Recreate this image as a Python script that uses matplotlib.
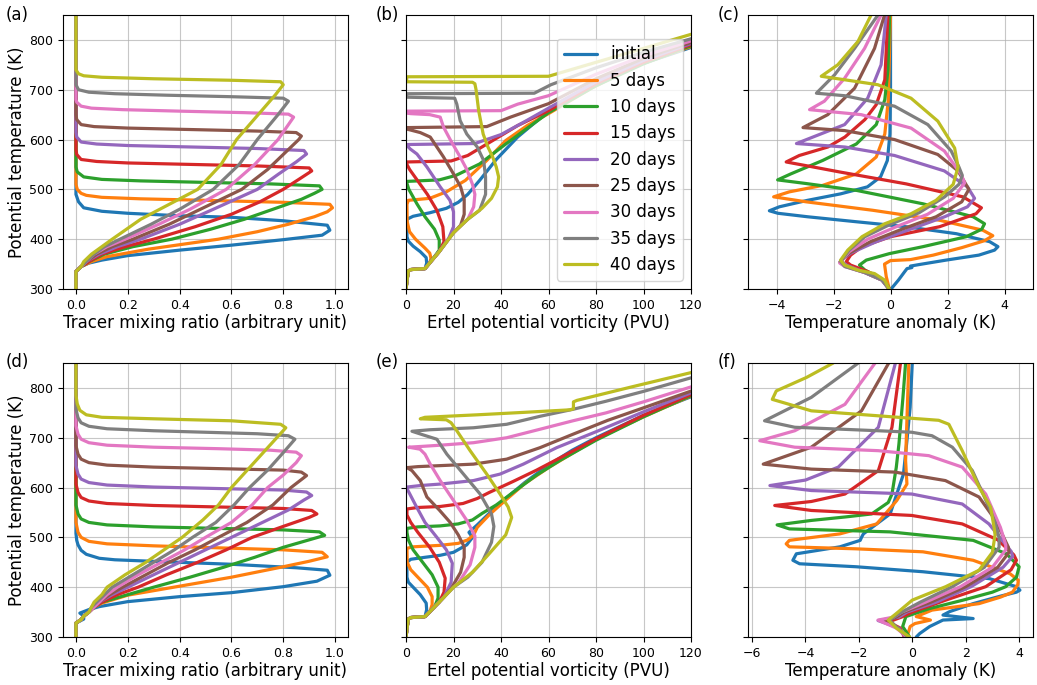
import matplotlib.pyplot as plt

labels = ["initial", "5 days", "10 days", "15 days", "20 days",
          "25 days", "30 days", "35 days", "40 days"]

# -- (a) tracer, run 1: (mixing ratio, theta) per curve ------------------------
tracer_a = [
    [(0, 300), (0, 335), (0.02, 345), (0.05, 352), (0.1, 358), (0.2, 367), (0.4, 378), (0.6, 388),
     (0.8, 399), (0.95, 408), (0.98, 418), (0.97, 428), (0.8, 437), (0.6, 444), (0.4, 447),
     (0.2, 452), (0.1, 456), (0.03, 463), (0.01, 475), (0, 490), (0, 850)],
    [(0, 300), (0, 335), (0.02, 345), (0.06, 355), (0.12, 365), (0.28, 380), (0.55, 400), (0.7, 415),
     (0.82, 430), (0.92, 445), (0.97, 455), (0.99, 463), (0.98, 470), (0.8, 474), (0.5, 478),
     (0.25, 481), (0.1, 484), (0.04, 488), (0.02, 492), (0.005, 500), (0, 510), (0, 850)],
    [(0, 300), (0, 335), (0.02, 345), (0.05, 355), (0.11, 370), (0.22, 385), (0.37, 400), (0.52, 420),
     (0.65, 440), (0.76, 460), (0.87, 480), (0.92, 492), (0.95, 500), (0.94, 507), (0.75, 511),
     (0.5, 514), (0.25, 517), (0.1, 520), (0.03, 525), (0.005, 535), (0, 545), (0, 850)],
    [(0, 300), (0, 335), (0.02, 345), (0.05, 355), (0.1, 370), (0.19, 385), (0.3, 400), (0.46, 425),
     (0.6, 450), (0.71, 475), (0.8, 500), (0.86, 520), (0.91, 537), (0.9, 543), (0.7, 547),
     (0.45, 550), (0.2, 553), (0.08, 556), (0.02, 560), (0.003, 570), (0, 580), (0, 850)],
    [(0, 300), (0, 335), (0.02, 345), (0.04, 355), (0.09, 370), (0.16, 385), (0.25, 400), (0.4, 430),
     (0.53, 460), (0.7, 500), (0.78, 530), (0.85, 555), (0.89, 571), (0.88, 578), (0.7, 582),
     (0.45, 585), (0.2, 588), (0.08, 591), (0.02, 595), (0.003, 605), (0, 615), (0, 850)],
    [(0, 300), (0, 335), (0.02, 345), (0.04, 355), (0.08, 370), (0.14, 385), (0.22, 400), (0.36, 430),
     (0.48, 460), (0.64, 500), (0.74, 540), (0.81, 575), (0.86, 600), (0.87, 607), (0.85, 614),
     (0.7, 617), (0.45, 620), (0.2, 623), (0.07, 626), (0.02, 630), (0.003, 640), (0, 650), (0, 850)],
    [(0, 300), (0, 335), (0.02, 345), (0.04, 355), (0.07, 370), (0.12, 385), (0.19, 400), (0.32, 430),
     (0.44, 460), (0.58, 500), (0.69, 550), (0.78, 600), (0.82, 630), (0.84, 645), (0.82, 651),
     (0.65, 654), (0.4, 657), (0.18, 660), (0.06, 663), (0.02, 667), (0.003, 675), (0, 680), (0, 850)],
    [(0, 300), (0, 335), (0.02, 345), (0.04, 355), (0.07, 370), (0.11, 385), (0.17, 400), (0.29, 430),
     (0.4, 460), (0.53, 500), (0.63, 550), (0.7, 600), (0.78, 650), (0.82, 677), (0.8, 683),
     (0.6, 686), (0.35, 689), (0.15, 692), (0.05, 695), (0.01, 700), (0, 710), (0, 850)],
    [(0, 300), (0, 335), (0.02, 345), (0.03, 355), (0.06, 370), (0.1, 385), (0.14, 400), (0.25, 440),
     (0.36, 470), (0.47, 500), (0.56, 550), (0.62, 600), (0.72, 660), (0.77, 690), (0.8, 710),
     (0.79, 716), (0.6, 719), (0.3, 722), (0.1, 725), (0.03, 728), (0.01, 732), (0, 740), (0, 850)],
]

# -- (d) tracer, run 2 ---------------------------------------------------------
tracer_d = [
    [(0, 300), (0, 328), (0.03, 336), (0.03, 342), (0.015, 348), (0.05, 355), (0.09, 361), (0.2, 371),
     (0.4, 381), (0.6, 389), (0.8, 401), (0.93, 412), (0.98, 424), (0.97, 434), (0.85, 439),
     (0.6, 446), (0.34, 451), (0.15, 455), (0.09, 458), (0.04, 466), (0.02, 474), (0.008, 485),
     (0.003, 494), (0, 508), (0, 850)],
    [(0, 300), (0, 328), (0.02, 335), (0.03, 342), (0.05, 350), (0.07, 360), (0.1, 368), (0.2, 384),
     (0.4, 402), (0.6, 420), (0.8, 441), (0.9, 452), (0.97, 461), (0.95, 470), (0.8, 475),
     (0.55, 479), (0.3, 483), (0.12, 487), (0.05, 492), (0.02, 500), (0.008, 510), (0, 530), (0, 850)],
    [(0, 300), (0, 328), (0.02, 335), (0.03, 342), (0.05, 350), (0.07, 360), (0.1, 370), (0.2, 385),
     (0.3, 400), (0.44, 420), (0.57, 440), (0.69, 460), (0.8, 480), (0.9, 495), (0.96, 504),
     (0.94, 511), (0.8, 515), (0.55, 518), (0.3, 521), (0.12, 525), (0.05, 530), (0.02, 537),
     (0.008, 547), (0, 565), (0, 850)],
    [(0, 300), (0, 328), (0.02, 335), (0.03, 342), (0.05, 350), (0.07, 360), (0.1, 370), (0.16, 385),
     (0.24, 400), (0.35, 425), (0.47, 450), (0.58, 475), (0.68, 500), (0.8, 522), (0.9, 540),
     (0.93, 547), (0.91, 554), (0.8, 558), (0.55, 561), (0.3, 564), (0.12, 568), (0.05, 573),
     (0.02, 580), (0.008, 590), (0, 607), (0, 850)],
    [(0, 300), (0, 328), (0.02, 335), (0.03, 342), (0.05, 350), (0.07, 360), (0.09, 370), (0.14, 385),
     (0.2, 400), (0.3, 425), (0.4, 450), (0.5, 475), (0.6, 500), (0.72, 530), (0.82, 555),
     (0.88, 575), (0.91, 584), (0.89, 591), (0.8, 595), (0.55, 598), (0.3, 601), (0.12, 605),
     (0.05, 610), (0.02, 617), (0.008, 627), (0, 644), (0, 850)],
    [(0, 300), (0, 328), (0.02, 335), (0.03, 342), (0.05, 350), (0.07, 360), (0.09, 370), (0.13, 385),
     (0.18, 400), (0.27, 425), (0.36, 450), (0.46, 475), (0.55, 500), (0.66, 530), (0.76, 565),
     (0.83, 600), (0.89, 624), (0.87, 631), (0.8, 635), (0.55, 638), (0.3, 641), (0.12, 645),
     (0.05, 650), (0.02, 657), (0.008, 667), (0, 684), (0, 850)],
    [(0, 300), (0, 328), (0.02, 335), (0.03, 342), (0.05, 350), (0.07, 360), (0.09, 370), (0.12, 385),
     (0.16, 400), (0.24, 425), (0.33, 450), (0.42, 475), (0.5, 500), (0.6, 530), (0.68, 565),
     (0.74, 600), (0.8, 625), (0.85, 650), (0.87, 664), (0.85, 671), (0.75, 675), (0.55, 678),
     (0.3, 681), (0.12, 685), (0.05, 690), (0.02, 697), (0.008, 707), (0, 724), (0, 850)],
    [(0, 300), (0, 328), (0.02, 335), (0.03, 342), (0.05, 350), (0.06, 360), (0.08, 370), (0.11, 385),
     (0.14, 400), (0.22, 425), (0.3, 450), (0.38, 475), (0.45, 500), (0.54, 530), (0.61, 565),
     (0.67, 600), (0.74, 635), (0.8, 670), (0.845, 697), (0.82, 704), (0.7, 708), (0.5, 711),
     (0.3, 714), (0.12, 718), (0.05, 723), (0.02, 730), (0.008, 740), (0, 757), (0, 850)],
    [(0, 300), (0, 328), (0.02, 335), (0.03, 342), (0.05, 350), (0.06, 360), (0.07, 370), (0.1, 385),
     (0.12, 400), (0.19, 425), (0.27, 450), (0.34, 475), (0.41, 500), (0.49, 535), (0.55, 565),
     (0.6, 600), (0.67, 640), (0.74, 680), (0.81, 720), (0.79, 727), (0.6, 734), (0.3, 738),
     (0.1, 741), (0.04, 746), (0.015, 755), (0.005, 768), (0, 785), (0, 850)],
]

# -- (b) Ertel PV, run 1 -------------------------------------------------------
pv_base = [(0, 300), (0.5, 320), (1, 336), (2, 339), (8, 341)]
pv_b = [
    [(8.7, 352), (8.5, 363), (6, 375), (3, 386), (1, 396), (0.4, 405), (0.4, 440), (3, 446), (10, 453),
     (17, 462), (22, 474), (26, 490), (31, 518), (38, 560), (47, 605), (57, 645), (75, 700),
     (95, 745), (122, 788)],
    [(10, 352), (10.5, 362), (10, 372), (8, 382), (4, 400), (1.5, 415), (0.5, 435), (0.4, 470), (1, 478),
     (10, 482), (17, 495), (25, 518), (34, 558), (42, 598), (51, 628), (60, 652), (78, 703),
     (97, 748), (122, 790)],
    [(12, 365), (14, 378), (14, 398), (12, 420), (8, 445), (4.6, 471), (1.2, 500), (0.4, 512),
     (0.4, 516), (14, 519), (21, 528), (31, 551), (42, 591), (60, 654), (80, 708), (100, 752),
     (122, 792)],
    [(14, 375), (16, 395), (15.5, 425), (13, 458), (9, 490), (4.5, 520), (1.5, 540), (0.4, 550),
     (0.3, 555), (19, 557), (26, 568), (33, 588), (40, 608), (47, 628), (60, 658), (80, 712),
     (100, 755), (122, 794)],
    [(14, 375), (18, 402), (20, 425), (20, 455), (18.5, 478), (14.4, 505), (8.8, 545), (4.6, 571),
     (1.8, 581), (0.4, 588), (0.3, 590), (29, 592), (40, 610), (50, 636), (60, 663), (80, 716),
     (100, 759), (122, 796)],
    [(14, 375), (20, 413), (23, 428), (24.5, 450), (24.5, 480), (23, 505), (20, 531), (15.8, 565),
     (10.2, 605), (6, 614), (2, 619), (0.3, 621), (0.3, 624), (34, 626), (44, 645), (60, 672),
     (80, 722), (100, 763), (122, 798)],
    [(14, 375), (20, 413), (26, 440), (28.5, 465), (29, 490), (28, 510), (25.6, 540), (22.8, 565),
     (18.6, 600), (15.8, 625), (14.4, 645), (10, 650), (2, 652), (0.3, 653), (0.3, 657), (40, 658),
     (47, 671), (60, 688), (80, 731), (100, 768), (122, 801)],
    [(14, 375), (20, 413), (26, 440), (31, 458), (33.5, 490), (33.5, 525), (32.7, 558), (30, 585),
     (25.6, 611), (22.8, 638), (21.4, 671), (20.5, 683), (10, 684), (0.3, 685), (0.3, 692),
     (54, 693), (61, 710), (80, 744), (100, 775), (122, 805)],
    [(14, 375), (20, 413), (26, 440), (32, 462), (36, 482), (38.5, 505), (39, 525), (38, 545),
     (36.5, 565), (34.5, 585), (32.5, 611), (30.6, 658), (29.5, 700), (29, 712), (28, 715),
     (0.3, 716), (0.3, 726), (60, 727), (80, 755), (100, 783), (122, 814)],
]

# -- (e) Ertel PV, run 2 -------------------------------------------------------
pv_e = [
    [(8.7, 355), (8.5, 368), (6, 385), (3, 400), (1, 410), (0.4, 420), (0.4, 450), (2, 456), (8, 460),
     (14.4, 464), (20, 470), (25.6, 485), (28, 500), (26.5, 510), (30, 525), (35, 548), (40, 570),
     (50, 610), (60, 645), (70, 675), (80, 700), (100, 745), (122, 786)],
    [(10, 350), (11, 365), (11, 381), (9, 400), (5, 420), (2, 435), (0.5, 450), (0.4, 478), (3, 481),
     (14.4, 484), (22, 488), (26, 495), (28.5, 505), (30, 520), (35, 545), (42, 575), (50, 608),
     (60, 640), (80, 697), (100, 742), (122, 788)],
    [(12, 360), (13.5, 378), (13.5, 400), (11, 425), (7, 450), (3, 475), (1, 495), (0.4, 510),
     (0.4, 518), (5, 521), (14.4, 523), (22, 527), (28, 535), (32, 548), (38, 565), (45, 590),
     (55, 625), (65, 655), (80, 695), (100, 742), (122, 789)],
    [(14, 370), (16, 390), (16.5, 418), (14, 450), (10, 480), (5, 510), (2, 530), (0.4, 545),
     (0.4, 557), (5, 560), (14.4, 562), (24, 568), (30, 578), (35, 590), (45, 612), (55, 635),
     (65, 660), (80, 698), (100, 745), (122, 791)],
    [(14, 370), (16, 380), (19, 410), (19.5, 448), (17, 475), (13, 500), (8, 530), (4, 565),
     (1.5, 588), (0.4, 598), (0.4, 601), (6, 604), (14.4, 607), (28.4, 614), (39.6, 627),
     (49.4, 647), (63.4, 680), (80, 712), (100, 752), (122, 794)],
    [(14, 370), (19, 397), (23, 430), (24.5, 460), (24.5, 481), (22, 505), (18.6, 530), (14, 555),
     (8.8, 581), (6, 614), (2.5, 634), (0.4, 640), (5, 642), (14.4, 644), (28.4, 647), (42.4, 657),
     (56.4, 680), (70.3, 707), (85, 735), (100, 760), (122, 797)],
    [(14, 370), (20, 400), (22, 408), (27, 445), (29, 480), (29, 503), (25.6, 534), (20, 574),
     (14.4, 614), (10.2, 647), (8, 667), (5.9, 677), (1.1, 681), (8, 683), (14.4, 685), (28.4, 690),
     (42.4, 700), (56.4, 717), (70.3, 734), (84.3, 750), (100, 772), (122, 805)],
    [(14, 370), (20, 400), (26, 420), (32, 450), (36, 490), (37, 522), (36, 547), (31.2, 587),
     (24.2, 627), (17.2, 667), (13, 697), (7, 706), (2.5, 713), (10, 716), (28.4, 720), (42.4, 727),
     (56.4, 743), (70.3, 757), (84, 773), (100, 793), (122, 823)],
    [(14, 370), (20, 400), (28, 430), (35, 467), (42, 505), (44.5, 540), (43, 561), (39.6, 587),
     (34, 627), (27, 674), (21.4, 714), (19, 730), (17, 736), (6, 738), (8, 741), (30, 746),
     (50, 751), (69, 756), (70.5, 758), (70.5, 772), (72, 775), (95, 802), (122, 833)],
]

# -- (c) temperature anomaly, run 1 --------------------------------------------
temp_c = [
    [(0.02, 300), (0.28, 318), (0.5, 335), (0.58, 341), (0.75, 343), (0.7, 346), (1.0, 349),
     (1.95, 358), (3.1, 368), (3.65, 378), (3.77, 385), (3.48, 395), (2.31, 411), (0.55, 425),
     (-1.2, 435), (-2.91, 445), (-3.95, 452), (-4.25, 457), (-3.9, 465), (-2.91, 478), (-1.75, 491),
     (-0.81, 505), (-0.35, 525), (-0.11, 558), (-0.02, 611), (0, 700), (0, 850)],
    [(-0.04, 300), (-0.15, 325), (-0.21, 350), (0.0, 357), (0.7, 359), (1.5, 368), (2.5, 383),
     (3.3, 397), (3.59, 407), (3.24, 418), (1.72, 438), (-0.62, 458), (-2.96, 475), (-4.1, 485),
     (-3.55, 495), (-2.38, 508), (-1.2, 531), (-0.5, 565), (-0.2, 611), (-0.08, 678), (0, 850)],
    [(-0.03, 300), (-0.25, 318), (-0.9, 338), (-1.09, 348), (-0.85, 358), (-0.04, 371), (1.14, 385),
     (2.66, 405), (3.2, 420), (3.3, 431), (2.9, 445), (1.14, 471), (-1.2, 498), (-3.0, 512),
     (-3.96, 519), (-3.5, 531), (-2.38, 558), (-1.2, 591), (-0.5, 630), (-0.2, 680), (-0.09, 740),
     (-0.03, 850)],
    [(-0.05, 300), (-0.3, 320), (-0.8, 335), (-1.4, 348), (-1.55, 355), (-1.4, 368), (-1.0, 385),
     (0, 405), (1.72, 425), (3.0, 451), (3.19, 463), (2.54, 485), (0.55, 511), (-1.79, 535),
     (-3.0, 548), (-3.66, 555), (-3.2, 568), (-2.2, 585), (-1.6, 605), (-0.9, 640), (-0.5, 670),
     (-0.2, 720), (-0.09, 850)],
    [(-0.05, 300), (-0.3, 318), (-0.9, 333), (-1.55, 348), (-1.75, 357), (-1.4, 372), (-0.5, 395),
     (0.7, 420), (1.9, 445), (2.7, 465), (2.95, 482), (2.7, 505), (1.89, 537), (0.14, 568),
     (-1.6, 585), (-3.3, 592), (-2.5, 610), (-1.61, 630), (-0.8, 683), (-0.33, 750), (-0.15, 850)],
    [(-0.05, 300), (-0.3, 318), (-0.9, 333), (-1.6, 346), (-1.78, 354), (-1.45, 372), (-0.7, 395),
     (0.4, 420), (1.6, 445), (2.5, 475), (2.75, 500), (2.37, 537), (1.66, 570), (0.14, 600),
     (-1.61, 618), (-3.07, 624), (-2.2, 650), (-1.26, 703), (-0.56, 783), (-0.21, 850)],
    [(-0.05, 300), (-0.3, 318), (-0.9, 333), (-1.6, 345), (-1.78, 352), (-1.45, 375), (-0.8, 400),
     (0.2, 425), (1.3, 450), (2.2, 482), (2.6, 513), (2.48, 530), (1.89, 577), (0.72, 623),
     (-1.03, 650), (-2.84, 660), (-2.32, 677), (-1.61, 723), (-0.91, 783), (-0.33, 850)],
    [(-0.05, 300), (-0.3, 318), (-0.9, 333), (-1.6, 345), (-1.75, 355), (-1.45, 378), (-0.9, 405),
     (0, 430), (1.0, 453), (1.9, 485), (2.4, 510), (2.52, 528), (2.4, 545), (2.13, 577), (1.31, 630),
     (0.14, 667), (-1.61, 688), (-2.6, 693), (-1.96, 730), (-1.26, 783), (-0.44, 850)],
    [(-0.05, 300), (-0.21, 318), (-0.56, 331), (-1.15, 338), (-1.61, 348), (-1.75, 358), (-1.5, 378),
     (-1.0, 405), (-0.2, 431), (0.72, 451), (1.6, 478), (2.2, 510), (2.37, 545), (2.25, 583),
     (1.66, 637), (0.72, 683), (-0.44, 710), (-1.61, 720), (-2.43, 727), (-1.85, 750), (-1.14, 797),
     (-0.68, 850)],
]

# -- (f) temperature anomaly, run 2 --------------------------------------------
temp_f = [
    [(0.15, 300), (0.28, 307), (0.65, 321), (1.15, 334), (2.28, 337), (1.15, 344), (1.4, 351),
     (2.28, 367), (3.3, 382), (3.9, 390), (4.03, 394), (3.9, 401), (2.9, 417), (0.4, 431), (-2.1, 441),
     (-4.22, 447), (-4.47, 454), (-4.34, 467), (-2.71, 481), (-1.95, 494), (-1.9, 500), (-1.83, 507),
     (-1.33, 527), (-0.83, 547), (-0.58, 587), (-0.33, 627), (-0.2, 694), (-0.08, 761), (0, 850)],
    [(-0.2, 300), (-0.08, 321), (0.1, 327), (0.68, 334), (0.15, 341), (0.74, 354), (2.5, 367),
     (3.3, 380), (3.75, 390), (3.95, 405), (3.97, 414), (3.66, 427), (2.28, 454), (0.4, 471),
     (-2.1, 477), (-4.6, 481), (-4.72, 487), (-4.6, 494), (-2.71, 507), (-1.33, 527), (-0.58, 574),
     (-0.2, 607), (-0.25, 654), (-0.13, 850)],
    [(-0.1, 300), (-0.36, 321), (-0.24, 341), (0.64, 357), (1.9, 374), (3.0, 390), (3.5, 401),
     (3.9, 420), (4.0, 441), (3.53, 467), (2.28, 494), (-0.83, 511), (-4.6, 517), (-5.06, 525),
     (-3.78, 534), (-2.5, 541), (-1.52, 547), (-0.9, 570), (-0.76, 587), (-0.6, 640), (-0.5, 687),
     (-0.35, 780), (-0.25, 850)],
    [(-0.3, 300), (-0.45, 318), (-0.9, 330), (-0.4, 340), (0.0, 350), (1.25, 374), (2.75, 401),
     (3.7, 435), (3.9, 454), (3.8, 465), (3.2, 495), (1.87, 527), (-0.02, 544), (-3.78, 554),
     (-5.15, 564), (-3.78, 572), (-2.52, 587), (-1.27, 634), (-0.76, 721), (-0.44, 850)],
    [(-0.25, 300), (-0.5, 318), (-1.28, 333), (-0.5, 340), (-0.2, 350), (0.9, 370), (2.2, 401),
     (3.4, 440), (3.76, 462), (3.7, 472), (2.87, 527), (1.87, 567), (-0.02, 587), (-3.78, 594),
     (-5.33, 604), (-4.0, 615), (-2.77, 641), (-1.27, 721), (-0.63, 850)],
    [(-0.2, 300), (-0.55, 318), (-1.0, 332), (-0.6, 340), (-0.3, 350), (0.7, 370), (2.0, 401),
     (3.2, 440), (3.62, 470), (3.6, 480), (3.12, 534), (2.5, 581), (1.24, 614), (-0.65, 631),
     (-3.78, 637), (-5.58, 647), (-3.78, 681), (-1.9, 754), (-0.88, 850)],
    [(-0.2, 300), (-0.6, 318), (-1.28, 334), (-0.7, 340), (-0.4, 350), (0.5, 370), (1.8, 401),
     (3.0, 440), (3.5, 475), (3.5, 485), (3.3, 520), (2.75, 587), (1.87, 641), (0.62, 664),
     (-1.27, 674), (-4.4, 681), (-5.71, 694), (-4.4, 714), (-2.52, 767), (-1.39, 850)],
    [(-0.15, 300), (-0.55, 318), (-0.85, 334), (-0.5, 347), (0.3, 370), (1.5, 401), (2.7, 440),
     (3.25, 480), (3.25, 500), (3.1, 530), (2.87, 561), (2.25, 634), (1.5, 681), (0.74, 704),
     (-0.02, 711), (-1.27, 714), (-4.4, 721), (-5.53, 734), (-3.78, 781), (-2.02, 850)],
    [(-0.1, 300), (-0.6, 318), (-0.9, 334), (-0.6, 347), (0.0, 374), (1.25, 401), (2.5, 434),
     (3.0, 470), (3.1, 505), (3.06, 521), (2.93, 561), (2.5, 601), (1.87, 674), (1.37, 727),
     (0.99, 735), (-1.27, 744), (-3.78, 754), (-5.24, 777), (-5.09, 794), (-3.96, 821), (-2.96, 850)],
]

# -- Figure ----------------------------------------------------------------------

W, H = 1037, 685
fig = plt.figure(figsize=(W / 100, H / 100), dpi=100)

panels = [
    ("(a)", tracer_a, None, (-0.05, 1.05), [0, 0.2, 0.4, 0.6, 0.8, 1.0],
     "Tracer mixing ratio (arbitrary unit)", 0, 0),
    ("(b)", pv_b, pv_base, (0, 120), [0, 20, 40, 60, 80, 100, 120],
     "Ertel potential vorticity (PVU)", 1, 0),
    ("(c)", temp_c, None, (-5, 5), [-4, -2, 0, 2, 4], "Temperature anomaly (K)", 2, 0),
    ("(d)", tracer_d, None, (-0.05, 1.05), [0, 0.2, 0.4, 0.6, 0.8, 1.0],
     "Tracer mixing ratio (arbitrary unit)", 0, 1),
    ("(e)", pv_e, pv_base, (0, 120), [0, 20, 40, 60, 80, 100, 120],
     "Ertel potential vorticity (PVU)", 1, 1),
    ("(f)", temp_f, None, (-6.15, 4.52), [-6, -4, -2, 0, 2, 4], "Temperature anomaly (K)", 2, 1),
]

col_left = [63, 406, 748]
row_bottom = [289, 637]
col_tag = [6, 376, 718]

for tag, curves, base, xlim, xticks, xlabel, col, row in panels:
    ax = fig.add_axes([col_left[col] / W, 1 - row_bottom[row] / H, 285 / W, 274 / H])
    for i, pts in enumerate(curves):
        if base is not None:
            pts = base + pts
        xs, ys = zip(*pts)
        ax.plot(xs, ys, color=f"C{i}", linewidth=2.3, label=labels[i],
                solid_joinstyle="round", solid_capstyle="round")
    ax.set_xlim(*xlim)
    ax.set_ylim(300, 850)
    ax.set_xticks(xticks)
    ax.set_yticks([300, 400, 500, 600, 700, 800])
    ax.tick_params(labelsize=9)
    ax.grid(True, color="#b0b0b0", linewidth=0.8, alpha=0.7)
    ax.set_xlabel(xlabel, fontsize=12, labelpad=2)
    if col == 0:
        ax.set_ylabel("Potential temperature (K)", fontsize=12, labelpad=2)
    else:
        ax.tick_params(labelleft=False)
    if tag == "(b)":
        ax.legend(loc="lower right", fontsize=12)
    fig.text(col_tag[col] / W, 1 - (15 + 347 * row) / H, tag, fontsize=12,
             ha="left", va="center")

fig.savefig("out.png", dpi=100)
